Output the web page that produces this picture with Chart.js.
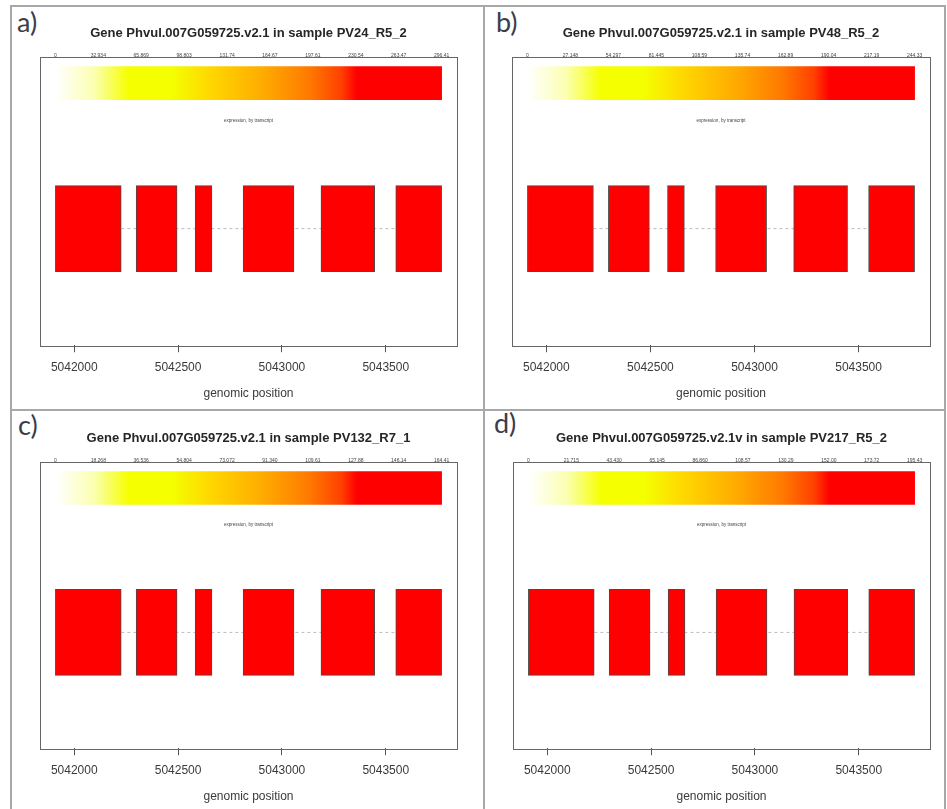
<!DOCTYPE html>
<html>
<head>
<meta charset="utf-8">
<script src="https://cdn.jsdelivr.net/npm/chart.js@4.4.1/dist/chart.umd.min.js"></script>
<style>
  body { margin: 0; background: #fff; width: 947px; height: 809px; position: relative; overflow: hidden; font-family: "Liberation Sans", Arial, sans-serif; }
  canvas { position: absolute; }
  .letter { position: absolute; font-family: Lato, "Open Sans", sans-serif; font-size: 27px; line-height: 1; color: #3a3d4a; }
  .line { position: absolute; background: #a8a8a8; }
</style>
</head>
<body>
<div class="line" style="left:10px;top:5px;width:936px;height:2px"></div>
<div class="line" style="left:10px;top:5px;width:2px;height:804px"></div>
<div class="line" style="left:483px;top:5px;width:2px;height:804px"></div>
<div class="line" style="left:944px;top:5px;width:2px;height:804px"></div>
<div class="line" style="left:10px;top:409px;width:936px;height:2px"></div>

<div class="letter" style="left:17px;top:8px">a)</div>
<div class="letter" style="left:496px;top:8px">b)</div>
<div class="letter" style="left:18px;top:411px">c)</div>
<div class="letter" style="left:494px;top:409px">d)</div>

<canvas id="pa" width="472" height="402" style="left:12px;top:7px"></canvas>
<canvas id="pb" width="459" height="402" style="left:485px;top:7px"></canvas>
<canvas id="pc" width="472" height="398" style="left:12px;top:411px"></canvas>
<canvas id="pd" width="459" height="398" style="left:485px;top:411px"></canvas>

<script>
// exon coordinates (genomic position)
const exonStarts = [5041909, 5042298, 5042582, 5042813, 5043188, 5043548];
const exonEnds   = [5042226, 5042495, 5042663, 5043058, 5043447, 5043769];

const positionTicks = [5042000, 5042500, 5043000, 5043500];
const axisRange = [5041835, 5043843];

const sampleTitles = [
  'Gene Phvul.007G059725.v2.1 in sample PV24_R5_2',
  'Gene Phvul.007G059725.v2.1 in sample PV48_R5_2',
  'Gene Phvul.007G059725.v2.1 in sample PV132_R7_1',
  'Gene Phvul.007G059725.v2.1v in sample PV217_R5_2'
];

// colour key labels (too small to read in the source, approximate)
const keyLabelsA = ['0', '32.934', '65.869', '98.803', '131.74', '164.67', '197.61', '230.54', '263.47', '296.41'];
const keyLabelsB = ['0', '27.148', '54.297', '81.445', '108.59', '135.74', '162.89', '190.04', '217.19', '244.33'];
const keyLabelsC = ['0', '18.268', '36.536', '54.804', '73.072', '91.340', '109.61', '127.88', '146.14', '164.41'];
const keyLabelsD = ['0', '21.715', '43.430', '65.145', '86.860', '108.57', '130.29', '152.00', '173.72', '195.43'];

const keyTitle = 'expression, by transcript';

// styles / layout
const gradientStops = [
  [0, '#ffffff'], [0.1, '#fbffb0'], [0.19, '#f6ff00'], [0.3, '#f4ff00'],
  [0.4, '#ffd800'], [0.54, '#ffaa00'], [0.66, '#ff7800'], [0.74, '#ff4000'],
  [0.78, '#ff0000'], [1, '#ff0000']
];
const rowKey = 0.92, rowGene = 5.96, rowKeyTitle = 2.22;

const geneStart = Math.min(...exonStarts);
const geneEnd = Math.max(...exonEnds);

const panelBox = {
  id: 'panelBox',
  afterDatasetsDraw(chart, args, opts) {
    const { ctx, chartArea: a, scales } = chart;
    ctx.save();
    ctx.strokeStyle = '#666';
    ctx.lineWidth = 1;
    ctx.strokeRect(Math.round(a.left) + 0.5, Math.round(a.top) + 0.5, Math.round(a.right - a.left), Math.round(a.bottom - a.top));
    // colour key labels along the top edge
    ctx.fillStyle = '#444';
    ctx.font = '5px "Liberation Sans", Arial, sans-serif';
    ctx.textAlign = 'center';
    ctx.textBaseline = 'middle';
    const n = opts.labels.length;
    opts.labels.forEach((t, i) => {
      const v = geneStart + (geneEnd - geneStart) * i / (n - 1);
      ctx.fillText(t, scales.x.getPixelForValue(v), a.top - 0.5);
    });
    ctx.font = '4.5px "Liberation Sans", Arial, sans-serif';
    ctx.fillText(keyTitle, (a.left + a.right) / 2, scales.y.getPixelForValue(rowKeyTitle));
    ctx.restore();
  }
};

function makePanel(id, title, labels, pad) {
  const exonData = exonStarts.map((s, i) => ({ x: [s, exonEnds[i]], y: rowGene }));
  return new Chart(document.getElementById(id), {
    type: 'bar',
    data: {
      datasets: [
        {
          label: 'exons',
          data: exonData,
          backgroundColor: '#ff0000',
          borderColor: '#4a4a4a',
          borderWidth: 1,
          borderSkipped: false,
          barThickness: 86,
          grouped: false,
          order: 1
        },
        {
          label: 'key',
          data: [{ x: [geneStart, geneEnd], y: rowKey }],
          backgroundColor: function(c) {
            const ch = c.chart;
            if (!ch.chartArea || !ch.scales.x) return '#ff0000';
            const x0 = ch.scales.x.getPixelForValue(geneStart);
            const x1 = ch.scales.x.getPixelForValue(geneEnd);
            const g = ch.ctx.createLinearGradient(x0, 0, x1, 0);
            gradientStops.forEach(s => g.addColorStop(s[0], s[1]));
            return g;
          },
          borderWidth: 0,
          barThickness: 33,
          grouped: false,
          order: 1
        },
        {
          type: 'line',
          label: 'intron',
          data: [{ x: geneStart, y: rowGene }, { x: geneEnd, y: rowGene }],
          borderColor: '#bdbdbd',
          borderWidth: 1,
          borderDash: [3, 3],
          pointRadius: 0,
          order: 2
        }
      ]
    },
    options: {
      responsive: false,
      animation: false,
      indexAxis: 'y',
      layout: { padding: pad },
      scales: {
        x: {
          type: 'linear',
          min: axisRange[0],
          max: axisRange[1],
          afterBuildTicks: (scale) => { scale.ticks = positionTicks.map(v => ({ value: v })); },
          ticks: {
            callback: (v) => String(v),
            color: '#3a3a3a',
            padding: 8,
            maxRotation: 0,
            font: { size: 12, family: '"Liberation Sans", Arial, sans-serif' }
          },
          grid: { display: true, drawOnChartArea: false, drawTicks: true, tickLength: 7, color: '#555' },
          border: { display: false },
          title: {
            display: true,
            text: 'genomic position',
            color: '#3a3a3a',
            padding: { top: 4, bottom: 0 },
            font: { size: 12, family: '"Liberation Sans", Arial, sans-serif' }
          }
        },
        y: { type: 'linear', min: 0, max: 10, reverse: true, offset: false, display: false }
      },
      plugins: {
        legend: { display: false },
        tooltip: { enabled: false },
        title: {
          display: true,
          text: title,
          color: '#262626',
          padding: { top: 0, bottom: 15 },
          font: { size: 13, weight: 'bold', family: '"Liberation Sans", Arial, sans-serif' }
        },
        panelBox: { labels: labels }
      }
    },
    plugins: [panelBox]
  });
}

makePanel('pa', sampleTitles[0], keyLabelsA, { left: 28, right: 27, top: 19, bottom: 8 });
makePanel('pb', sampleTitles[1], keyLabelsB, { left: 27, right: 14, top: 19, bottom: 8 });
makePanel('pc', sampleTitles[2], keyLabelsC, { left: 28, right: 27, top: 20, bottom: 5 });
makePanel('pd', sampleTitles[3], keyLabelsD, { left: 28, right: 14, top: 20, bottom: 5 });
</script>
</body>
</html>
